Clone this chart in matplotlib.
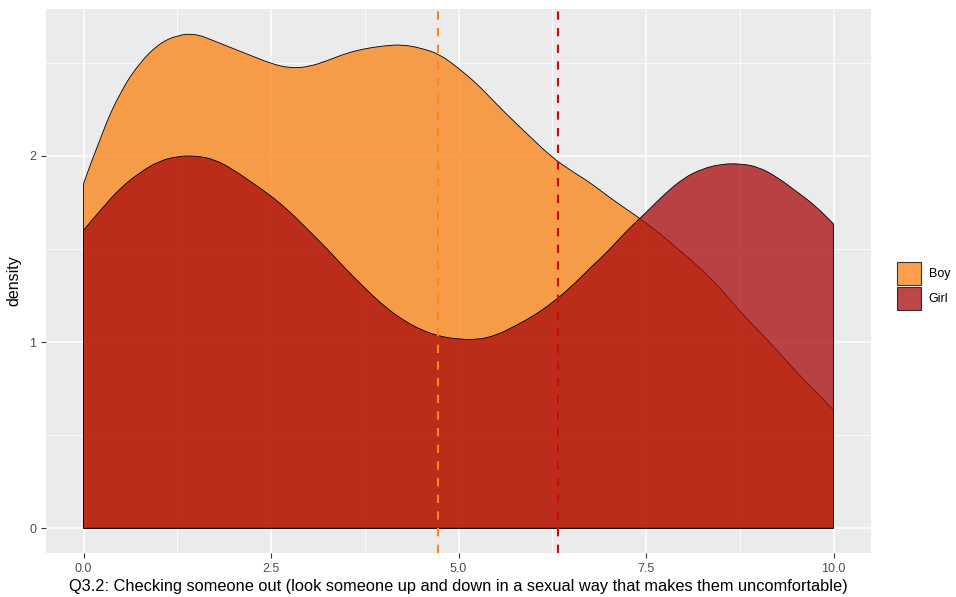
import numpy as np
import matplotlib
matplotlib.use('Agg')
import matplotlib.pyplot as plt
from matplotlib.patches import Patch, PathPatch
from matplotlib.path import Path
from matplotlib.ticker import MultipleLocator

plt.rcParams['font.family'] = ['Liberation Sans', 'DejaVu Sans']

# density curves, step 0.25 on the x axis
x_grid = [i * 0.25 for i in range(41)]
boy = [1.85, 2.13, 2.35, 2.50, 2.60, 2.648, 2.655, 2.615, 2.575, 2.535,
       2.495, 2.47, 2.477, 2.51, 2.55, 2.575, 2.59, 2.597, 2.578, 2.545,
       2.47, 2.385, 2.28, 2.18, 2.085, 1.99, 1.92, 1.857, 1.78, 1.71,
       1.64, 1.56, 1.475, 1.385, 1.285, 1.165, 1.06, 0.955, 0.84, 0.74, 0.634]
girl = [1.60, 1.72, 1.83, 1.91, 1.97, 1.997, 2.00, 1.98, 1.925, 1.855,
        1.785, 1.70, 1.60, 1.50, 1.39, 1.29, 1.195, 1.12, 1.065, 1.03,
        1.015, 1.012, 1.035, 1.085, 1.14, 1.21, 1.295, 1.395, 1.49, 1.60,
        1.695, 1.795, 1.88, 1.93, 1.955, 1.958, 1.94, 1.885, 1.81, 1.735, 1.634]
groups = ['Boy', 'Girl']
means = [4.72, 6.33]
fills = ['#FB8012', '#A7080B']
mean_colors = ['#FF8516', '#C40D0D']
alpha = 0.75


def density_path(xs, ys):
    # closed area under the curve, drawn with quadratic bezier segments
    verts = [(xs[0], 0), (xs[0], ys[0])]
    codes = [Path.MOVETO, Path.LINETO]
    for i in range(1, len(xs) - 1):
        verts += [(xs[i], ys[i]), ((xs[i] + xs[i+1]) / 2, (ys[i] + ys[i+1]) / 2)]
        codes += [Path.CURVE3, Path.CURVE3]
    verts += [(xs[-1], ys[-1]), (xs[-1], 0), (xs[0], 0)]
    codes += [Path.LINETO, Path.LINETO, Path.CLOSEPOLY]
    return Path(verts, codes)


fig = plt.figure(figsize=(9.56, 5.97), dpi=100)
ax = fig.add_axes([46/956, 1-553/597, (871-46)/956, (553-9)/597])
ax.set_facecolor('#EBEBEB')

for xs in [1.25, 3.75, 6.25, 8.75]:
    ax.axvline(xs, color='white', lw=0.55, zorder=0)
for ys in [0.5, 1.5, 2.5]:
    ax.axhline(ys, color='white', lw=0.55, zorder=0)
for xs in [0, 2.5, 5, 7.5, 10]:
    ax.axvline(xs, color='white', lw=1.1, zorder=0)
for ys in [0, 1, 2]:
    ax.axhline(ys, color='white', lw=1.1, zorder=0)

for vals, c in zip([boy, girl], fills):
    p = density_path(x_grid, vals)
    ax.add_patch(PathPatch(p, facecolor=c, alpha=alpha, edgecolor='none', zorder=2))
    ax.add_patch(PathPatch(p, facecolor='none', edgecolor='black', lw=0.6, zorder=2))

for m, c in zip(means, mean_colors):
    ax.axvline(m, color=c, lw=1.5, linestyle=(0, (4, 4)), zorder=3)

top = max(max(boy), max(girl))
ax.set_xlim(-0.5, 10.5)
ax.set_ylim(-0.05 * top, top * 1.05)
ax.set_xticks([0, 2.5, 5, 7.5, 10])
ax.set_xticklabels(['0.0', '2.5', '5.0', '7.5', '10.0'])
ax.yaxis.set_major_locator(MultipleLocator(1))
ax.tick_params(colors='#333333', labelcolor='#4D4D4D', labelsize=9, length=3.5, width=0.8)
for s in ax.spines.values():
    s.set_visible(False)

ax.set_xlabel('Q3.2: Checking someone out (look someone up and down in a sexual way that makes them uncomfortable)',
              fontsize=11.8, labelpad=3)
ax.set_ylabel('density', fontsize=11.5, labelpad=6)

handles = [Patch(facecolor=c, alpha=alpha, edgecolor='black', lw=0.8) for c in fills]
leg = fig.legend(handles, groups, loc='center left', bbox_to_anchor=(888/956, 1-286/597),
                 frameon=False, fontsize=9, handlelength=1.9, handleheight=2.5,
                 labelspacing=0.12, handletextpad=0.65, borderpad=0.2)

fig.savefig('out.png', dpi=100)
